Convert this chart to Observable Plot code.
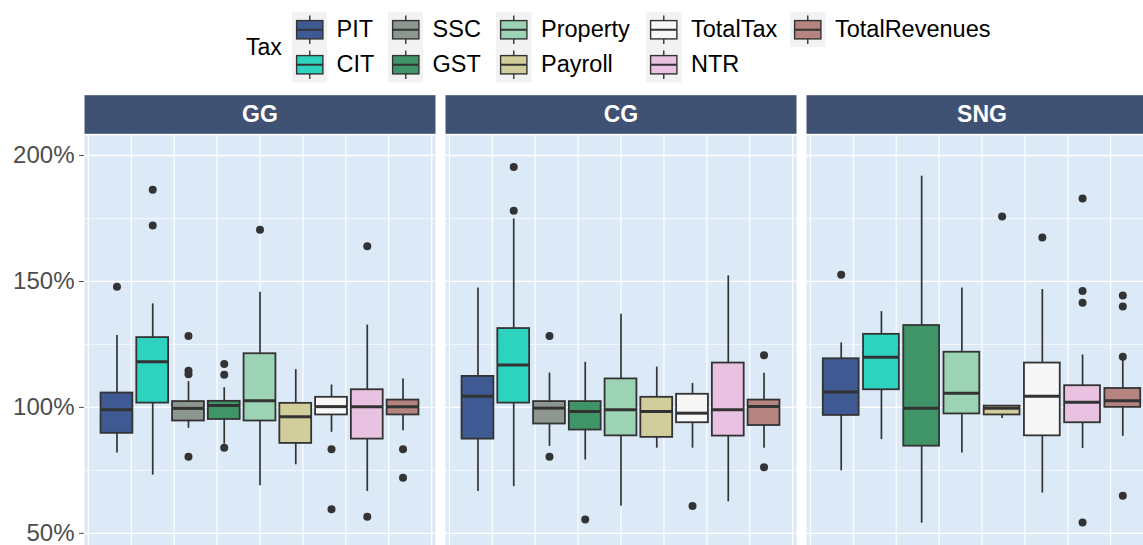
<!DOCTYPE html>
<html><head><meta charset="utf-8">
<script src="https://cdn.jsdelivr.net/npm/d3@7"></script>
<script src="https://cdn.jsdelivr.net/npm/@observablehq/plot@0.6"></script>
<style>
html,body{margin:0;padding:0;background:#fff;overflow:hidden;width:1143px;height:545px;}
body{font-family:"Liberation Sans",Arial,sans-serif;}
#legend{position:relative;height:90px;width:1143px;}
#chart svg{max-width:none !important;display:block;}
</style></head><body>
<div id="legend"></div><div id="chart"></div>
<script>
// ---------- data ----------
const panels = ["GG", "CG", "SNG"];
const taxes = ["PIT", "CIT", "SSC", "GST", "Property", "Payroll", "TotalTax", "NTR", "TotalRevenues"];
const taxColors = ["#3f5a92", "#2ed3c0", "#8e9690", "#3f9468", "#9dd3b5", "#d2ce9b", "#f7f7f7", "#e9c2e1", "#b58481"];
const yTicks = [50, 100, 150, 200];
const yMinorTicks = [75, 125, 175];

const ggTaxes = ["PIT", "CIT", "SSC", "GST", "Property", "Payroll", "TotalTax", "NTR", "TotalRevenues"];
const ggLow  = [81.9, 73.1, 91.7, 85.4, 68.9, 77.2, 90.1, 66.6, 90.7];
const ggQ1   = [89.7, 101.7, 94.6, 95.2, 94.6, 85.7, 97.0, 87.4, 97.0];
const ggMed  = [99.1, 118.1, 99.6, 100.7, 102.6, 96.3, 100.3, 100.3, 100.3];
const ggQ3   = [105.7, 127.7, 102.3, 102.4, 121.3, 101.6, 104.0, 107.0, 102.9];
const ggHigh = [128.5, 141.1, 110.2, 107.8, 145.7, 115.0, 108.9, 132.7, 111.3];
const ggOut  = [[147.9], [186.4, 172.2], [128.3, 114.5, 113.2, 80.4], [117.2, 113.0, 84.0], [170.5], [], [83.4, 59.6], [164.0, 56.6], [83.4, 72.1]];

const cgTaxes = ["PIT", "CIT", "SSC", "GST", "Property", "Payroll", "TotalTax", "NTR", "TotalRevenues"];
const cgLow  = [66.6, 68.5, 84.5, 79.1, 60.7, 83.8, 83.8, 62.5, 83.8];
const cgQ1   = [87.4, 101.7, 93.4, 91.0, 88.7, 88.1, 93.9, 88.6, 92.8];
const cgMed  = [104.4, 116.8, 99.7, 98.4, 99.1, 98.4, 97.7, 99.1, 100.4];
const cgQ3   = [112.3, 131.3, 102.3, 102.3, 111.3, 104.0, 105.2, 117.6, 102.9];
const cgHigh = [147.4, 174.8, 113.6, 117.9, 137.0, 116.0, 109.5, 152.2, 113.6];
const cgOut  = [[], [195.4, 178.1], [128.3, 80.4], [55.5], [], [], [60.8], [], [120.7, 76.2]];

const sngTaxes = ["PIT", "CIT", "GST", "Property", "Payroll", "TotalTax", "NTR", "TotalRevenues"];
const sngLow  = [74.8, 87.2, 54.0, 81.9, 95.6, 66.0, 83.7, 88.5];
const sngQ1   = [96.8, 107.0, 84.6, 97.4, 97.0, 88.7, 93.9, 100.0];
const sngMed  = [106.1, 119.9, 99.7, 105.6, 99.7, 104.4, 102.0, 102.6];
const sngQ3   = [119.3, 129.0, 132.5, 121.9, 100.5, 117.6, 108.6, 107.5];
const sngHigh = [125.6, 138.0, 191.8, 147.4, 100.5, 146.8, 120.8, 118.8];
const sngOut  = [[152.7], [], [], [], [175.8], [167.5], [182.9, 146.2, 141.5, 54.3], [144.4, 140.1, 120.1, 64.9]];

// ---------- build tables ----------
const DODGE = 7.5;      // total dodge width in x units
const BOXFRAC = 0.89;   // box width as fraction of dodge slot
const boxes = [], outliers = [];
function addPanel(panel, tx, lo, q1, md, q3, hi, out) {
  const n = tx.length, slot = DODGE / n;
  tx.forEach((t, i) => {
    const x = (i - (n - 1) / 2) * slot;
    boxes.push({panel, tax: t, x, hw: slot * BOXFRAC / 2, low: lo[i], q1: q1[i], med: md[i], q3: q3[i], high: hi[i]});
    out[i].forEach(v => outliers.push({panel, tax: t, x, value: v}));
  });
}
addPanel("GG", ggTaxes, ggLow, ggQ1, ggMed, ggQ3, ggHigh, ggOut);
addPanel("CG", cgTaxes, cgLow, cgQ1, cgMed, cgQ3, cgHigh, cgOut);
addPanel("SNG", sngTaxes, sngLow, sngQ1, sngMed, sngQ3, sngHigh, sngOut);

// ---------- legend ----------
const INK = "#333333";
const leg = d3.select("#legend");
leg.append("div").text("Tax")
  .style("position", "absolute").style("left", "246px").style("top", "47px")
  .style("transform", "translateY(-50%)")
  .style("font-size", "23px").style("color", "#000");
const K = 35.5;
const colLefts = [291.6, 387.6, 496, 646, 790];
for (let c = 0; c < colLefts.length; c++) {
  const col = leg.append("div")
    .style("position", "absolute").style("left", colLefts[c] + "px").style("top", "11.7px")
    .style("display", "flex").style("flex-direction", "column");
  taxes.slice(2 * c, 2 * c + 2).forEach(t => {
    const item = col.append("div").style("display", "flex").style("align-items", "center").style("height", K + "px");
    const s = item.append("svg").attr("width", K).attr("height", K).style("display", "block");
    s.append("rect").attr("width", K).attr("height", K).attr("fill", "#f2f2f2");
    s.append("line").attr("x1", K / 2).attr("x2", K / 2).attr("y1", 3.5).attr("y2", K - 3.5).attr("stroke", INK).attr("stroke-width", 1.4);
    s.append("rect").attr("x", 4.6).attr("y", 8.6).attr("width", K - 9.2).attr("height", K - 17.2)
      .attr("fill", taxColors[taxes.indexOf(t)]).attr("stroke", INK).attr("stroke-width", 1.4);
    s.append("line").attr("x1", 4.6).attr("x2", K - 4.6).attr("y1", K / 2).attr("y2", K / 2).attr("stroke", INK).attr("stroke-width", 2);
    item.append("span").text(t).style("font-size", "23.5px").style("color", "#000")
      .style("margin-left", "9.5px").style("white-space", "nowrap");
  });
}

// ---------- chart ----------
const FRAME_H = 468 - 45;
const plot = Plot.plot({
  width: 1157, height: 468,
  marginLeft: 83, marginRight: 0, marginTop: 45, marginBottom: 0,
  style: {fontFamily: "Liberation Sans, Arial, sans-serif", fontSize: "23px", background: "white", maxWidth: "none"},
  fx: {domain: panels, paddingInner: 0.029, paddingOuter: 0, axis: null, label: null},
  x: {domain: [-4.09, 4.09], axis: null},
  y: {domain: [40, 207.95], axis: null},
  color: {domain: taxes, range: taxColors},
  marks: [
    Plot.frame({fill: "#dce9f7", stroke: null}),
    Plot.frame({fill: "#3f5274", stroke: null, insetTop: -40.3, insetBottom: FRAME_H + 1.7}),
    Plot.text(panels, {fx: d => d, text: d => d, frameAnchor: "top", dy: -21, lineAnchor: "middle",
      fill: "white", fontWeight: "bold", fontSize: 23}),
    Plot.gridY(yMinorTicks, {stroke: "white", strokeOpacity: 1, strokeWidth: 0.7}),
    Plot.gridY(yTicks, {stroke: "white", strokeOpacity: 1, strokeWidth: 1.3}),
    Plot.gridX(d3.range(-4, 5), {stroke: "white", strokeOpacity: 1, strokeWidth: 1.2}),
    Plot.ruleX(boxes, {fx: "panel", x: "x", y1: "low", y2: "q1", stroke: INK, strokeWidth: 1.7}),
    Plot.ruleX(boxes, {fx: "panel", x: "x", y1: "q3", y2: "high", stroke: INK, strokeWidth: 1.7}),
    Plot.rect(boxes, {fx: "panel", x1: d => d.x - d.hw, x2: d => d.x + d.hw, y1: "q1", y2: "q3",
      fill: "tax", stroke: INK, strokeWidth: 1.8}),
    Plot.ruleY(boxes, {fx: "panel", y: "med", x1: d => d.x - d.hw, x2: d => d.x + d.hw, stroke: INK, strokeWidth: 3}),
    Plot.dot(outliers, {fx: "panel", x: "x", y: "value", r: 4, fill: INK, stroke: null}),
    Plot.axisY(yTicks, {tickFormat: d => d + "%", tickSize: 5, tickPadding: 5, fontSize: 24, color: "#4d4d4d"})
  ]
});
document.getElementById("chart").appendChild(plot);
</script></body></html>
